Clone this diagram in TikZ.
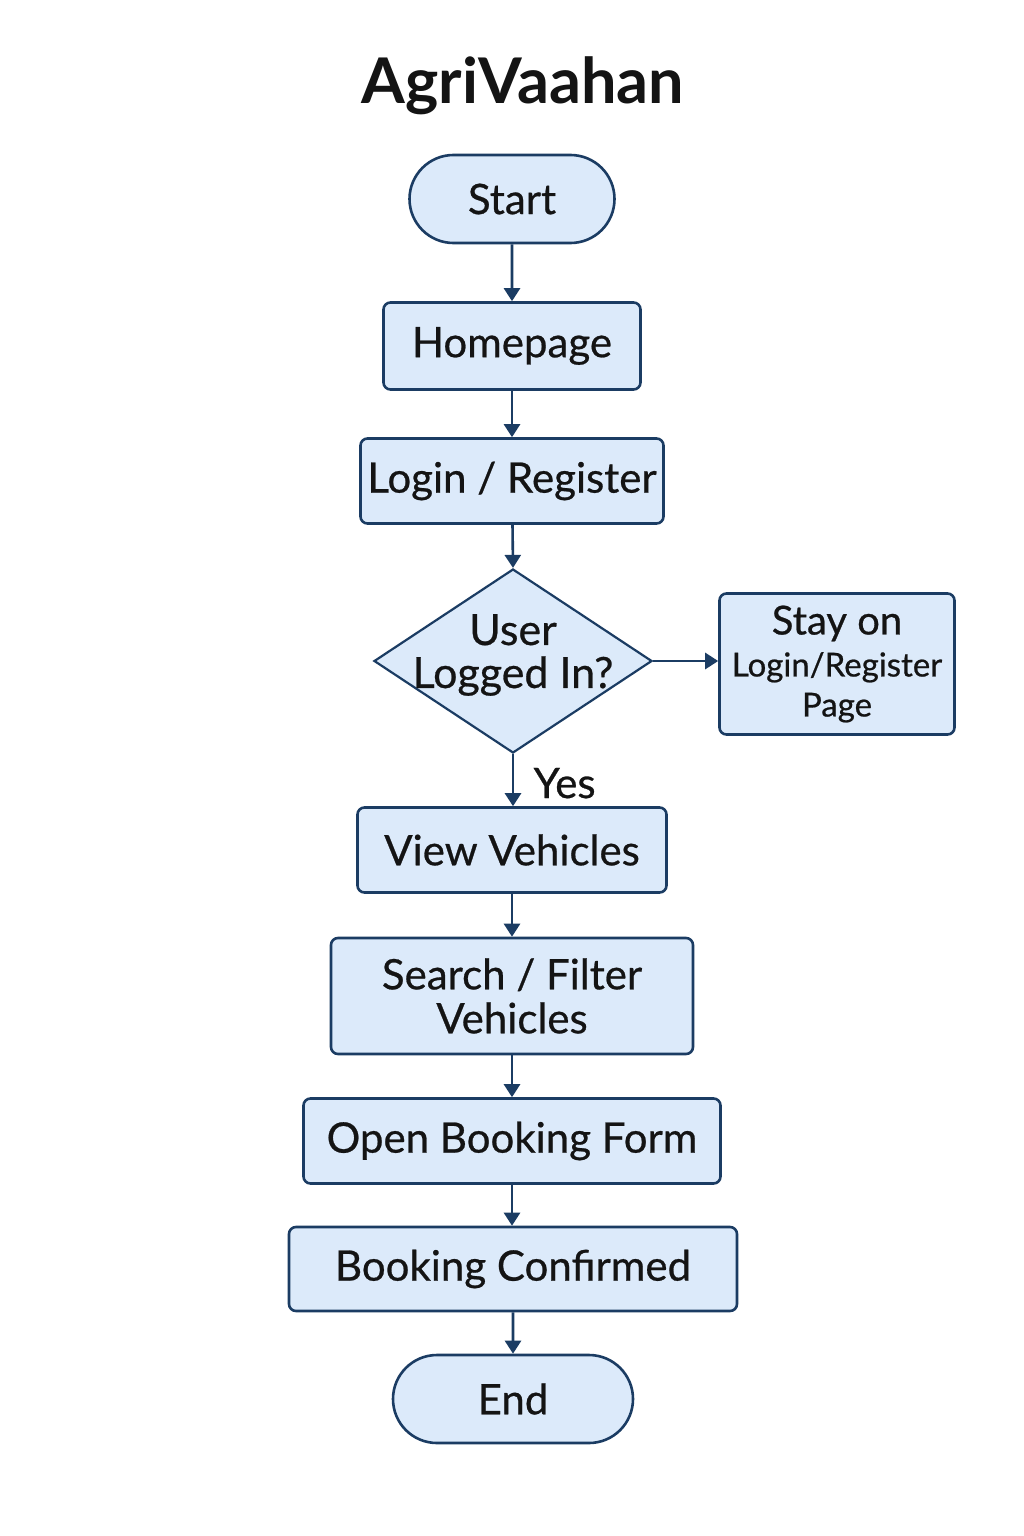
\documentclass[tikz,border=0pt]{standalone}
\usepackage{fontspec}
\setmainfont{Lato}[BoldFont={Lato Bold}]
\newfontfamily\medf{Lato}[FakeBold=0.6]
\usetikzlibrary{shapes.geometric,shapes.misc,arrows.meta}
\definecolor{boxfill}{HTML}{DCEAFA}
\definecolor{navy}{HTML}{1B3C63}
\definecolor{txt}{HTML}{141414}
\tikzset{
  base/.style={draw=navy, fill=boxfill, line width=2.6pt, text=txt, font=\medf\fontsize{42}{44}\selectfont, align=center, inner sep=0pt},
  proc/.style={base, rounded corners=7pt},
  term/.style={base, rounded rectangle},
  conn/.style={draw=navy, line width=2.6pt, -{Triangle[width=16pt,length=13pt]}},
}
\begin{document}
\begin{tikzpicture}[x=1pt,y=-1pt]
\useasboundingbox[fill=white] (0,0) rectangle (1024,1536);
\node[font=\bfseries\fontsize{63}{66}\selectfont, text=txt] (title) at (523,86) {AgriVaahan};
\node[term, minimum width=205pt, minimum height=88pt] (start) at (512,199) {Start};
\node[proc, minimum width=257pt, minimum height=87pt] (home) at (512,346) {Homepage};
\node[proc, minimum width=303pt, minimum height=85pt] (login) at (512,481) {Login / Register};
\node[base, shape=diamond, minimum width=278pt, minimum height=184pt, line width=2.2pt,
  label={[font=\medf\fontsize{43}{43}\selectfont, text=txt, align=center, yshift=6pt]center:User\\Logged In?}] (dec) at (513,661) {};
\node[proc, minimum width=235pt, minimum height=141pt] (stay) at (837,664)
  {{\fontsize{40}{40}\selectfont Stay on}\\[-2pt]{\fontsize{33}{36}\selectfont Login/Register}\\[-4pt]{\fontsize{33}{36}\selectfont Page}};
\node[proc, minimum width=309pt, minimum height=85pt] (view) at (512,850) {View Vehicles};
\node[proc, minimum width=362pt, minimum height=116pt] (search) at (512,996) {Search / Filter\\Vehicles};
\node[proc, minimum width=417pt, minimum height=85pt] (open) at (512,1141) {Open Booking Form};
\node[proc, minimum width=448pt, minimum height=84pt] (conf) at (513,1269) {Booking Confirmed};
\node[term, minimum width=240pt, minimum height=88pt] (end) at (513,1399) {End};
\draw[conn] (start) -- (home);
\draw[conn] (home) -- (login);
\draw[conn] (login) -- (dec.north);
\draw[conn] (dec.east) -- (stay.west |- dec.east);
\draw[conn] (dec.south) -- node[right, font=\medf\fontsize{42}{42}\selectfont, text=txt, xshift=16pt, yshift=-3pt] (yes) {Yes} (view.north -| dec.south);
\draw[conn] (view.south -| search.north) -- (search);
\draw[conn] (search) -- (open);
\draw[conn] (open) -- (conf.north -| open.south);
\draw[conn] (conf.south) -- (end);
\end{tikzpicture}
\end{document}
